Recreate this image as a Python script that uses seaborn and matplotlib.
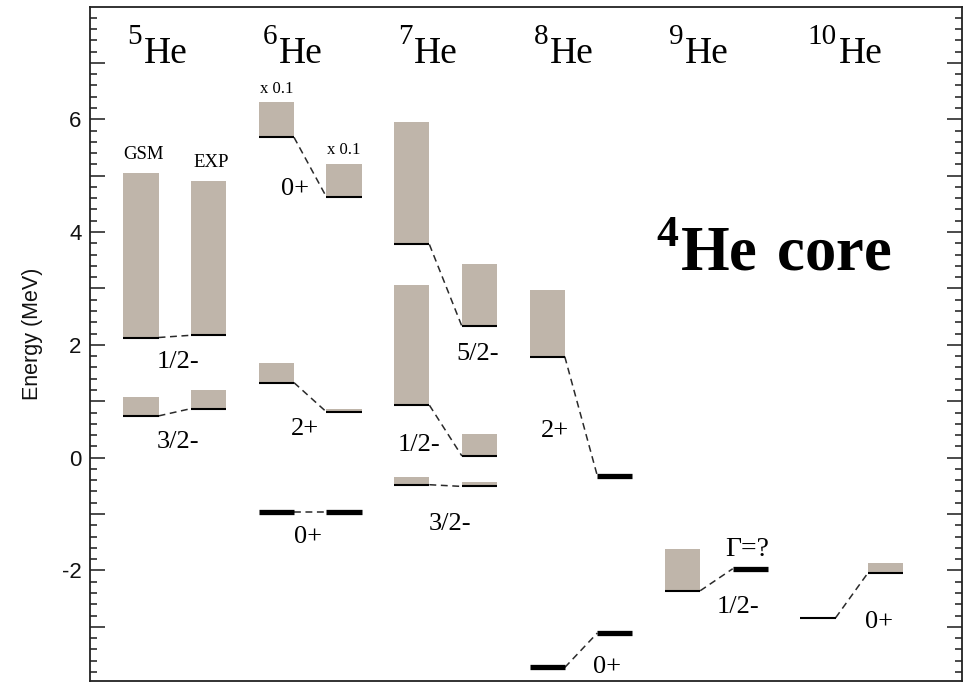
import matplotlib
matplotlib.use("Agg")
import matplotlib.pyplot as plt
from matplotlib.ticker import MultipleLocator, FuncFormatter
import seaborn as sns

# ---- data: helium isotope levels, energies relative to the 4He + n threshold (MeV) ----
masses = [5, 6, 7, 8, 9, 10]

state_mass = [5, 5, 6, 6, 6, 7, 7, 7, 8, 8, 9, 10]
state_jpi = ["1/2-", "3/2-", "0+", "2+", "0+", "5/2-", "1/2-", "3/2-", "2+", "0+", "1/2-", "0+"]

# Gamow Shell Model results
gsm_energy = [2.13, 0.74, 5.68, 1.33, -0.97, 3.78, 0.93, -0.48, 1.79, -3.72, -2.36, -2.84]
gsm_width = [2.91, 0.33, 6.2, 0.35, 0.0, 2.17, 2.13, 0.13, 1.19, 0.0, 0.74, 0.0]
gsm_bound = [False, False, False, False, True, False, False, False, False, True, False, False]

# experimental values
exp_energy = [2.17, 0.87, 4.62, 0.81, -0.97, 2.33, 0.03, -0.51, -0.32, -3.11, -1.97, -2.04]
exp_width = [2.74, 0.33, 5.9, 0.06, 0.0, 1.11, 0.39, 0.07, 0.0, 0.0, 0.0, 0.17]
exp_bound = [False, False, False, False, True, False, False, False, True, True, True, False]

# widths drawn scaled down so they fit on the axis
width_scale = [1, 1, 0.1, 1, 1, 1, 1, 1, 1, 1, 1, 1]

# ---- layout ----
label_xy = [(0.55, 1.69), (0.55, 0.28), (2.27, 4.77), (2.42, 0.51), (2.47, -1.40),
            (4.97, 1.84), (4.11, 0.22), (4.57, -1.17), (6.12, 0.47), (6.88, -3.72),
            (8.82, -2.64), (10.9, -2.91)]
bar_w = 0.52
bar_color = "#bfb5aa"
serif = "Liberation Serif"

sns.set_style("ticks")
plt.rcParams["font.family"] = ["Liberation Sans", "DejaVu Sans"]
plt.rcParams["text.color"] = "black"
plt.rcParams["mathtext.fontset"] = "custom"
plt.rcParams["mathtext.rm"] = serif
plt.rcParams["mathtext.bf"] = serif + ":bold"

fig = plt.figure(figsize=(9.75, 6.82), dpi=100)
ax = fig.add_axes([90 / 975, 1 / 682, 872 / 975, 674 / 682])


def col_x(mass, side):
    return 2 * masses.index(mass) + side


for i, m in enumerate(state_mass):
    xg, xe = col_x(m, 0), col_x(m, 1)
    sc = width_scale[i]
    for x, e, w, bound in ((xg, gsm_energy[i], gsm_width[i], gsm_bound[i]),
                           (xe, exp_energy[i], exp_width[i], exp_bound[i])):
        if w > 0:
            ax.bar(x, w * sc, bottom=e, width=bar_w, color=bar_color,
                   edgecolor="none", zorder=1)
        ax.hlines(e, x - bar_w / 2, x + bar_w / 2, color="black",
                  lw=3.8 if bound else 1.5, zorder=3)
        if sc != 1:
            ax.text(x, e + w * sc + 0.1, f"x {sc:g}", ha="center", va="bottom",
                    fontsize=12, family=serif)
    ax.plot([xg + bar_w / 2, xe - bar_w / 2], [gsm_energy[i], exp_energy[i]],
            ls=(0, (4.5, 3)), color="#2a2a2a", lw=1.1, zorder=2)
    lx, ly = label_xy[i]
    ax.text(lx, ly, state_jpi[i], ha="center", va="center", fontsize=19, family=serif)

# isotope names: mass number raised above the element symbol
for m in masses:
    x0 = col_x(m, 0) - (0.15 if m >= 10 else 0.2)
    nd = len(str(m))
    ax.text(x0, 7.33, str(m), ha="left", va="baseline", fontsize=21, family=serif)
    ax.text(x0 + 0.217 * nd + 0.02, 6.99, "He", ha="left", va="baseline",
            fontsize=27, family=serif)

ax.text(0.03, 5.22, "GSM", ha="center", va="bottom", fontsize=13.5, family=serif)
ax.text(1.03, 5.08, "EXP", ha="center", va="bottom", fontsize=13.5, family=serif)
ax.text(8.95, -1.63, "Γ=?", ha="center", va="center", fontsize=20, family=serif)
ax.text(7.6, 3.32, r"$^{\mathbf{4}}\mathbf{He\ core}$", ha="left", va="baseline",
        fontsize=45)

ax.set_xlim(-0.753, 12.127)
ax.set_ylim(-3.96, 7.99)
ax.set_xticks([])
ax.yaxis.set_major_locator(MultipleLocator(1))
ax.yaxis.set_minor_locator(MultipleLocator(0.2))
ax.yaxis.set_major_formatter(FuncFormatter(
    lambda v, p: f"{int(round(v))}" if int(round(v)) % 2 == 0 else ""))
ax.tick_params(axis="y", which="both", direction="in", left=True, right=True,
               labelright=False, width=1.1, color="#1a1a1a", labelsize=16,
               labelcolor="#111111", pad=6)
ax.tick_params(axis="y", which="major", length=10.8)
ax.tick_params(axis="y", which="minor", length=5.3)
for s in ax.spines.values():
    s.set_visible(True)
    s.set_linewidth(1.3)
    s.set_color("#222222")

ax.set_ylabel("Energy (MeV)", fontsize=15.5, color="#111111")
ax.yaxis.set_label_coords(-0.054, 0.515)

fig.savefig("out.png", dpi=100)
